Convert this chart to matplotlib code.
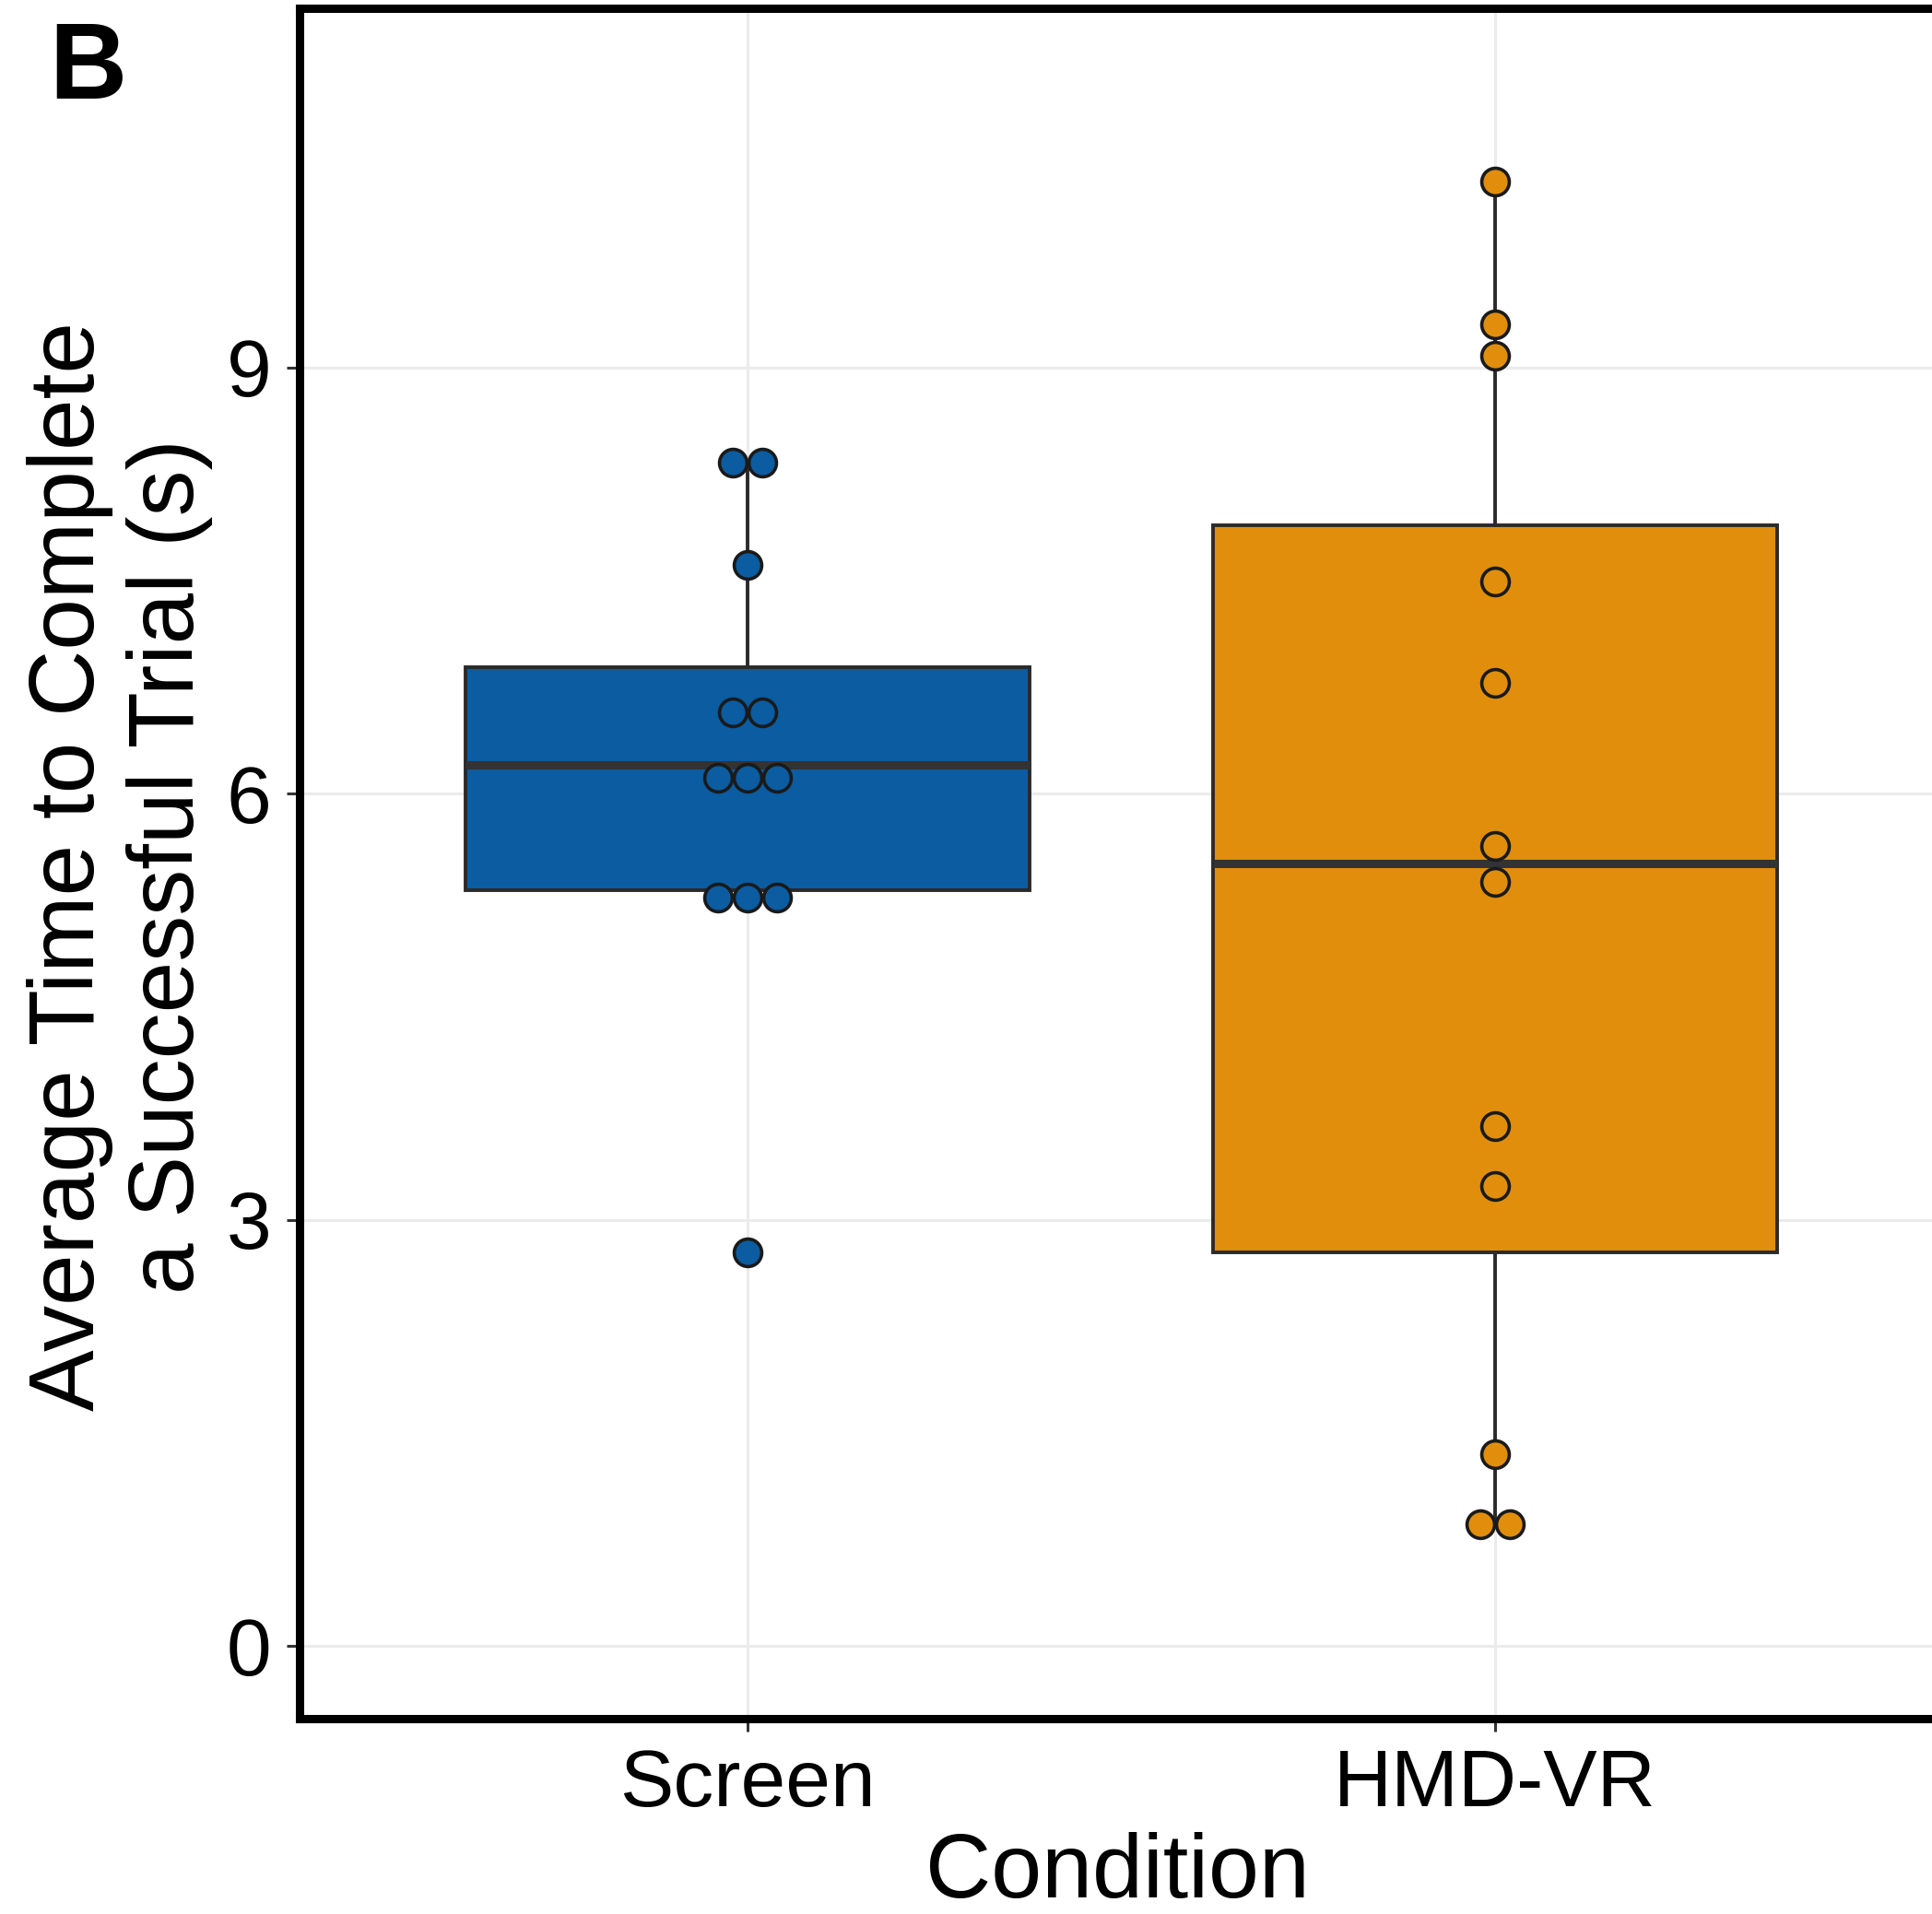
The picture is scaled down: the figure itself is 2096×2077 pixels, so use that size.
import numpy as np
import matplotlib.pyplot as plt

plt.rcParams['font.family'] = ['Liberation Sans', 'DejaVu Sans']

conditions = ['Screen', 'HMD-VR']
colors = ['#0B5CA1', '#E08E0B']

# individual participants (s)
screen_times = [8.33, 8.33, 7.61, 6.57, 6.57, 6.11, 6.11, 6.11, 5.27, 5.27, 5.27, 2.77]
hmd_times = [10.31, 9.30, 9.08, 7.49, 6.78, 5.63, 5.38, 3.66, 3.24, 1.35, 0.86, 0.86]

# box summaries
q1 = [5.32, 2.77]
medians = [6.20, 5.51]
q3 = [6.89, 7.89]
whisk_lo = [5.27, 0.86]
whisk_hi = [8.33, 10.31]

yticks = [0, 3, 6, 9]

fig = plt.figure(figsize=(20.96, 20.77), dpi=100)
ax = fig.add_axes([325 / 2096, 1 - 1865 / 2077, (2108 - 325) / 2096, (1865 - 8.5) / 2077])

stats = []
for i in range(2):
    stats.append(dict(med=medians[i], q1=q1[i], q3=q3[i],
                      whislo=whisk_lo[i], whishi=whisk_hi[i], fliers=[]))

bp = ax.bxp(stats, positions=[1, 2], widths=0.755, patch_artist=True,
            showcaps=False, showfliers=False,
            boxprops=dict(edgecolor='#2a2a2a', linewidth=2.8),
            whiskerprops=dict(color='#2a2a2a', linewidth=2.8),
            medianprops=dict(color='#333333', linewidth=6.5, solid_capstyle='butt'))
for patch, c in zip(bp['boxes'], colors):
    patch.set_facecolor(c)
    patch.set_zorder(2)

# centred dot stacks
dot_w = 0.0395
for i, vals in enumerate([screen_times, hmd_times]):
    uniq, counts = np.unique(vals, return_counts=True)
    for v, n in zip(uniq, counts):
        offs = (np.arange(n) - (n - 1) / 2) * dot_w
        ax.plot(i + 1 + offs, [v] * n, 'o', markersize=21.5, markerfacecolor=colors[i],
                markeredgecolor='#1a1a1a', markeredgewidth=2.6, linestyle='none', zorder=4)

ax.set_xlim(0.4, 2.6)
ax.set_ylim(-0.51, 11.53)
ax.set_xticks([1, 2])
ax.set_xticklabels(conditions)
ax.set_yticks(yticks)
ax.set_yticklabels([str(t) for t in yticks])

ax.grid(True, color='#EBEBEB', linewidth=2.2)
ax.set_axisbelow(True)
ax.tick_params(axis='both', length=10, width=2.2, color='#333333', labelsize=63, labelcolor='black')
ax.tick_params(axis='x', pad=13)
ax.tick_params(axis='y', pad=12)
for sp in ax.spines.values():
    sp.set_linewidth(6.5)
    sp.set_color('black')

fig.text(1212 / 2096, 18 / 2077, 'Condition', fontsize=71, ha='center', va='baseline')
fig.text(130 / 2096, 1 - 940 / 2077, 'Average Time to Complete\na Successful Trial (s)',
         fontsize=72, rotation=90, ha='center', va='center', multialignment='center',
         linespacing=1.2)
fig.text(53 / 2096, 1 - 107 / 2077, 'B', fontsize=84, fontweight='bold', va='baseline')

fig.savefig('out.png', dpi=100)
